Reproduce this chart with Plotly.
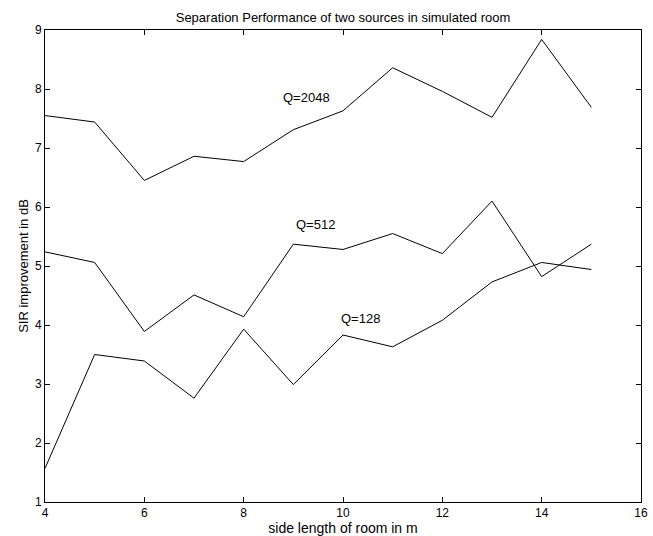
import plotly.graph_objects as go

x_vals = [4, 5, 6, 7, 8, 9, 10, 11, 12, 13, 14, 15]
q2048 = [7.55, 7.44, 6.45, 6.86, 6.77, 7.31, 7.63, 8.36, 7.96, 7.52, 8.84, 7.69]
q512 = [5.24, 5.06, 3.89, 4.51, 4.14, 5.37, 5.28, 5.55, 5.21, 6.10, 4.82, 5.37]
q128 = [1.57, 3.50, 3.39, 2.76, 3.93, 2.99, 3.83, 3.63, 4.08, 4.73, 5.06, 4.94]

labels = ["Q=2048", "Q=512", "Q=128"]
label_x = [9.27, 9.44, 10.36]
label_y = [7.85, 5.71, 4.11]

FONT = "Liberation Sans, Arial, Helvetica, sans-serif"

fig = go.Figure()
for ys in (q2048, q512, q128):
    fig.add_trace(go.Scatter(x=x_vals, y=ys, mode="lines",
                             line=dict(color="black", width=1), showlegend=False,
                             hoverinfo="skip"))

for t, lx, ly in zip(labels, label_x, label_y):
    fig.add_annotation(x=lx, y=ly, text=t, showarrow=False,
                       font=dict(family=FONT, size=13, color="black"))

axis_common = dict(showline=True, linecolor="black", linewidth=1, mirror="ticks",
                   ticks="inside", ticklen=5, tickcolor="black", showgrid=False,
                   zeroline=False, tickfont=dict(family=FONT, size=12, color="black"))

fig.update_xaxes(range=[4, 16], tickvals=[4, 6, 8, 10, 12, 14, 16],
                 title=dict(text="side length of room in m", standoff=1,
                            font=dict(family=FONT, size=14, color="black")),
                 automargin=False, **axis_common)
fig.update_yaxes(range=[1, 9], tickvals=list(range(1, 10)),
                 title=dict(text="SIR improvement in dB", standoff=3,
                            font=dict(family=FONT, size=13, color="black")),
                 automargin=False, **axis_common)

fig.update_layout(
    width=653, height=536,
    margin=dict(l=45, r=12, t=30, b=34),
    paper_bgcolor="white", plot_bgcolor="white",
    title=dict(text="Separation Performance of two sources in simulated room",
               x=0.5, xanchor="center", y=0.968, yanchor="middle",
               xref="paper",
               font=dict(family=FONT, size=13, color="black")),
)

fig.write_html("out.html")
